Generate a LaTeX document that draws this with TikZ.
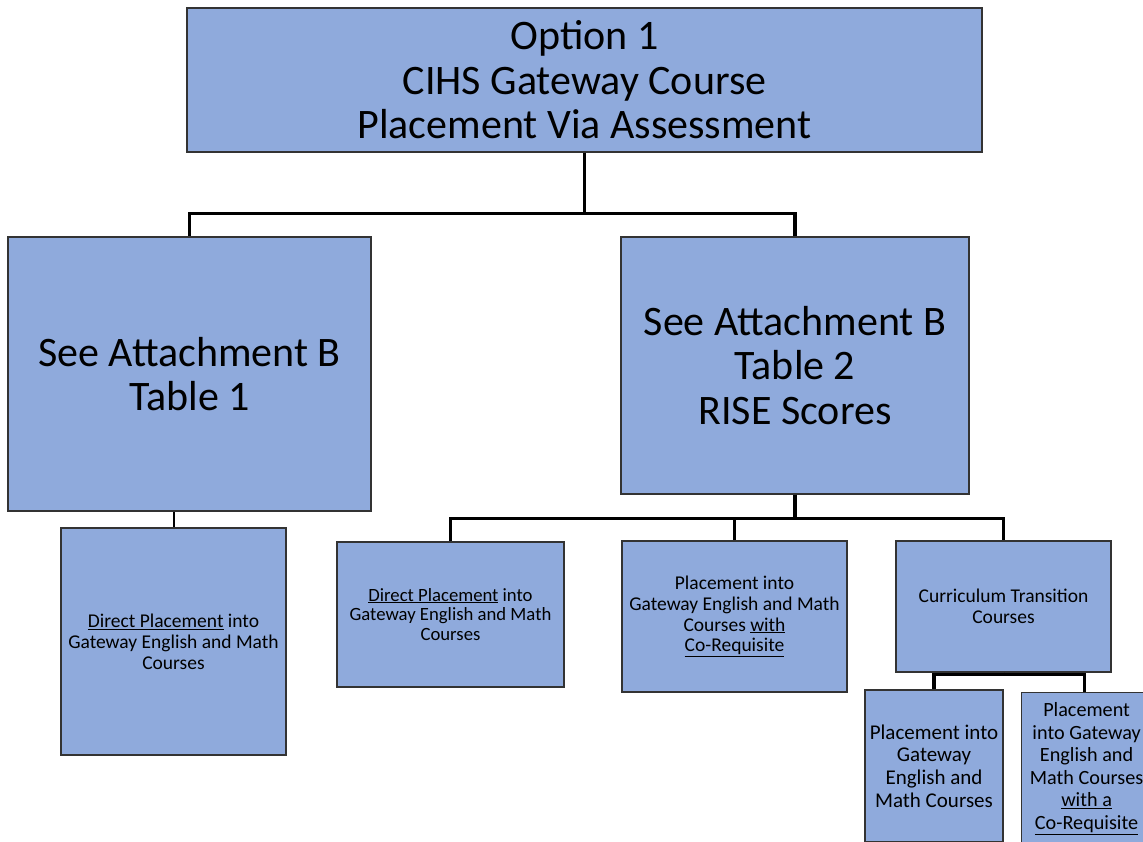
\documentclass[tikz,border=0pt]{standalone}
\usepackage{fontspec}
\setmainfont{Carlito}
\usetikzlibrary{positioning}
\definecolor{boxblue}{HTML}{8FAADC}

\begin{document}
\begin{tikzpicture}[x=1pt,y=-1pt]
        % Define styles for shapes
        \tikzset{
            box/.style={draw=black!80, fill=boxblue, line width=1.2pt, align=center, inner sep=2pt},
            bigtext/.style={font=\fontsize{42}{44.5}\selectfont},
            smalltext/.style={font=\fontsize{19.5}{20.8}\selectfont},
            bottomtext/.style={font=\fontsize{21}{22.6}\selectfont},
            link/.style={line width=3.5pt}
        }
        \fill[white] (0,0) rectangle (1143,842);
        \useasboundingbox (0,0) rectangle (1143,842);
        \clip (0,0) rectangle (1143,842);
        % Draw shapes
        \node[box, bigtext, minimum width=795pt, minimum height=144pt] (option) at (584.5, 80)
            {Option 1\\CIHS Gateway Course\\Placement Via Assessment};
        \node[box, bigtext, minimum width=363pt, minimum height=274pt] (attone) at (189.5, 374)
            {See Attachment B\\Table 1};
        \node[box, bigtext, minimum width=348pt, minimum height=257pt] (atttwo) at (795, 365.5)
            {See Attachment B\\Table 2\\RISE Scores};

        \node[box, smalltext, minimum width=225pt, minimum height=227pt] (directone) at (173.5, 641.5)
            {\underline{Direct Placement} into\\Gateway English and Math\\Courses};
        \node[box, smalltext, font=\fontsize{18.7}{19.8}\selectfont, minimum width=227pt, minimum height=145pt] (directtwo) at (450.5, 614.5)
            {\underline{Direct Placement} into\\Gateway English and Math\\Courses};
        \node[box, smalltext, minimum width=225pt, minimum height=151pt] (coreq) at (734.5, 616.5)
            {Placement into\\Gateway English and Math\\Courses \underline{with}\\\underline{Co-Requisite}};
        \node[box, smalltext, minimum width=215pt, minimum height=131pt] (transition) at (1003.5, 606.5)
            {Curriculum Transition\\Courses};

        \node[box, bottomtext, minimum width=138pt, minimum height=152pt] (gatewayone) at (934, 766)
            {Placement into\\Gateway\\English and\\Math Courses};
        \node[box, bottomtext, font=\fontsize{20.2}{22.6}\selectfont, minimum width=130pt, minimum height=152pt, anchor=north west] (gatewaytwo) at (1021, 692)
            {Placement\\into Gateway\\English and\\Math Courses\\\underline{with a}\\\underline{Co-Requisite}};

        % Draw connectors
        \draw[link] (option.south) -- ++(0,61) -| (attone.north);
        \draw[link] (option.south) -- ++(0,61) -| (atttwo.north);
        \draw[line width=2pt] (attone.south -| directone.north) -- (directone.north);
        \draw[link] (atttwo.south) -- ++(0,24) -| (directtwo.north);
        \draw[link] (atttwo.south) -- ++(0,24) -| (coreq.north);
        \draw[link] (atttwo.south) -- ++(0,24) -| (transition.north);
        \draw[link] (transition.south) -- ++(0,2) -| (gatewayone.north);
        \draw[link] (transition.south) -- ++(0,2) -| ([xshift=-2pt]gatewaytwo.north);
    \end{tikzpicture}
\end{document}
